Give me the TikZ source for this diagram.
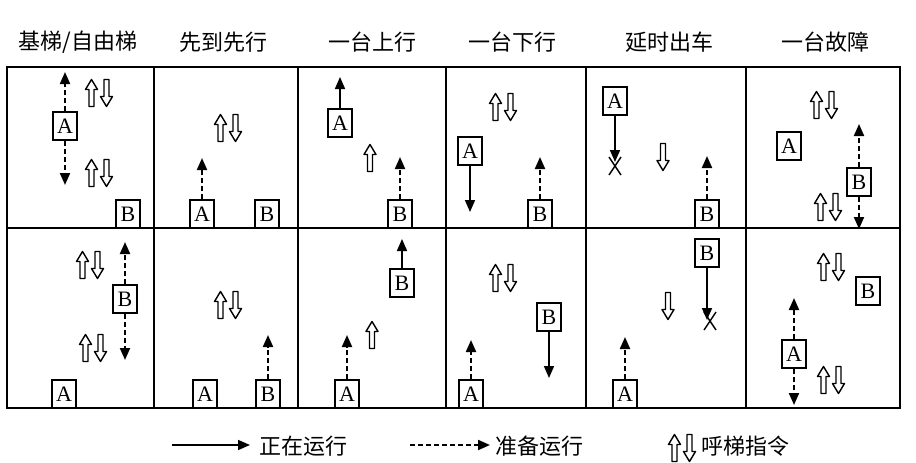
\documentclass[tikz,border=0pt]{standalone}
\usepackage{fontspec}
\setmainfont{Liberation Serif}
\newfontfamily\cjk{Noto Sans CJK SC}
\usetikzlibrary{arrows.meta}
\begin{document}
\begin{tikzpicture}[x=1pt,y=-1pt,
  gridline/.style={line width=1.6pt},
  car/.style={draw, line width=1.5pt, minimum width=24pt, minimum height=28pt, inner sep=0pt, font=\fontsize{22}{22}\selectfont},
  run/.style={line width=1.7pt, -{Triangle[length=12pt,width=10pt]}},
  prep/.style={line width=2pt, dash pattern=on 5pt off 3pt, -{Triangle[length=12pt,width=10pt]}},
  hdr/.style={font=\cjk\fontsize{22}{22}\selectfont, inner sep=0pt},
  call/.style={draw, line width=1.4pt, line join=round},
  cross/.style={line width=1.4pt},
  upc/.pic={\draw[call] (0,-13.5) -- (6,-3.5) -- (2.5,-3.5) -- (2.5,13.5) -- (-2.5,13.5) -- (-2.5,-3.5) -- (-6,-3.5) -- cycle;},
  dnc/.pic={\draw[call] (0,13.5) -- (6,3.5) -- (2.5,3.5) -- (2.5,-13.5) -- (-2.5,-13.5) -- (-2.5,3.5) -- (-6,3.5) -- cycle;},
  both/.pic={\pic at (-7.5,0) {upc}; \pic at (7.5,0) {dnc};},
  xmark/.pic={\draw[cross] (-6,-9) -- (6,9) (6,-9) -- (-6,9);},
]
\useasboundingbox (0,0) rectangle (916,463);

% headers
\node[hdr] (h1) at (78,42) {基梯/自由梯};
\node[hdr] (h2) at (223,42) {先到先行};
\node[hdr] (h3) at (372,42) {一台上行};
\node[hdr] (h4) at (512,42) {一台下行};
\node[hdr] (h5) at (669,42) {延时出车};
\node[hdr] (h6) at (825,42) {一台故障};

% grid
\draw[gridline, line width=2pt] (7,67) rectangle (900,408);
\foreach \x in {154,298,446,586,746} \draw[gridline] (\x,67) -- (\x,408);
\draw[gridline] (7,228) -- (900,228);

% ---------- top row ----------
% col 1
\node[car] (a1) at (65,126) {A};
\node[car] (b1) at (128,214) {B};
\coordinate (t1u) at (65,72); \coordinate (t1d) at (65,185);
\draw[prep] (a1.north) -- (t1u);
\draw[prep] (a1.south) -- (t1d);
\pic at (99,93) {both};
\pic at (99,173) {both};

% col 2
\node[car] (a2) at (202,214) {A};
\node[car] (b2) at (267,214) {B};
\coordinate (t2) at (202,158);
\draw[prep] (a2.north) -- (t2);
\pic at (228,128) {both};

% col 3
\node[car] (a3) at (340,123) {A};
\coordinate (t3a) at (340,77);
\draw[run] (a3.north) -- (t3a);
\pic at (370,158) {upc};
\node[car] (b3) at (400,214) {B};
\coordinate (t3b) at (400,157);
\draw[prep] (b3.north) -- (t3b);

% col 4
\pic at (503,107) {both};
\node[car] (a4) at (470,151) {A};
\coordinate (t4a) at (470,212);
\draw[run] (a4.south) -- (t4a);
\node[car] (b4) at (540,214) {B};
\coordinate (t4b) at (540,157);
\draw[prep] (b4.north) -- (t4b);

% col 5
\node[car] (a5) at (615,101) {A};
\coordinate (t5a) at (615,162);
\draw[run] (a5.south) -- (t5a);
\pic at (615,166) {xmark};
\pic at (663,157) {dnc};
\node[car] (b5) at (707,214) {B};
\coordinate (t5b) at (707,156);
\draw[prep] (b5.north) -- (t5b);

% col 6
\pic at (824,105) {both};
\node[car] (a6) at (789,146) {A};
\node[car] (b6) at (859,182) {B};
\coordinate (t6u) at (859,124); \coordinate (t6d) at (859,229);
\draw[prep] (b6.north) -- (t6u);
\draw[prep] (b6.south) -- (t6d);
\pic at (828,207) {both};

% ---------- bottom row ----------
% col 1
\pic at (90,265) {both};
\node[car] (b7) at (125,299) {B};
\coordinate (t7u) at (125,242); \coordinate (t7d) at (125,360);
\draw[prep] (b7.north) -- (t7u);
\draw[prep] (b7.south) -- (t7d);
\pic at (93,348) {both};
\node[car] (a7) at (64,394) {A};

% col 2
\pic at (228,305) {both};
\node[car] (a8) at (205,394) {A};
\node[car] (b8) at (268,394) {B};
\coordinate (t8) at (268,335);
\draw[prep] (b8.north) -- (t8);

% col 3
\node[car] (b9) at (402,283) {B};
\coordinate (t9b) at (402,239);
\draw[run] (b9.north) -- (t9b);
\pic at (372,335) {upc};
\node[car] (a9) at (347,394) {A};
\coordinate (t9a) at (347,335);
\draw[prep] (a9.north) -- (t9a);

% col 4
\pic at (503,278) {both};
\node[car] (b10) at (549,317) {B};
\coordinate (t10b) at (549,378);
\draw[run] (b10.south) -- (t10b);
\node[car] (a10) at (471,394) {A};
\coordinate (t10a) at (471,340);
\draw[prep] (a10.north) -- (t10a);

% col 5
\node[car] (b11) at (707,253) {B};
\coordinate (t11b) at (707,320);
\draw[run] (b11.south) -- (t11b);
\pic at (710,321) {xmark};
\pic at (668,306) {dnc};
\node[car] (a11) at (625,394) {A};
\coordinate (t11a) at (625,337);
\draw[prep] (a11.north) -- (t11a);

% col 6
\pic at (831,267) {both};
\node[car] (b12) at (868,291) {B};
\node[car] (a12) at (794,354) {A};
\coordinate (t12u) at (794,298); \coordinate (t12d) at (794,405);
\draw[prep] (a12.north) -- (t12u);
\draw[prep] (a12.south) -- (t12d);
\pic at (831,380) {both};

% ---------- legend ----------
\coordinate (ls1) at (172,445); \coordinate (ls2) at (250,445);
\draw[run] (ls1) -- (ls2);
\node[hdr] (l1) at (303,446) {正在运行};
\coordinate (lp1) at (410,445); \coordinate (lp2) at (490,445);
\draw[prep] (lp1) -- (lp2);
\node[hdr] (l2) at (539,446) {准备运行};
\pic at (682,448) {both};
\node[hdr] (l3) at (745,446) {呼梯指令};
\end{tikzpicture}
\end{document}
